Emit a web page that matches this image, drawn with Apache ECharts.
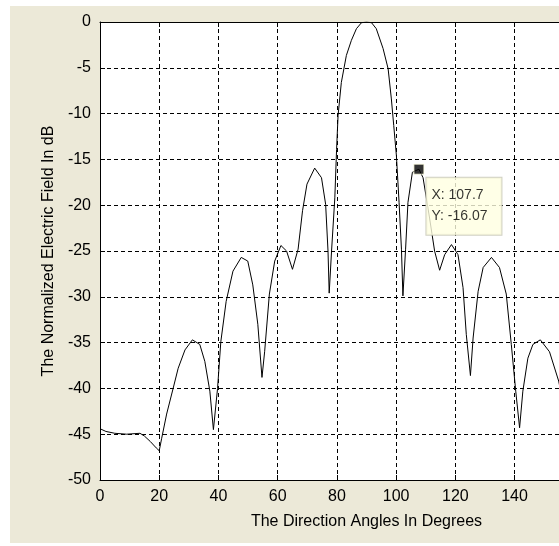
<!DOCTYPE html>
<html>
<head>
<meta charset="utf-8">
<script src="https://cdn.jsdelivr.net/npm/echarts@6/dist/echarts.min.js"></script>
<style>
html,body{margin:0;padding:0;background:#fff;overflow:hidden;}
#main{width:634px;height:546px;}
</style>
</head>
<body>
<div id="main"></div>
<script>
// 方向角(度)
var angles = [0,2,5,9,13.5,15,17,19,20,20.8,22.5,24.7,26.4,28.7,31.2,33.7,35.4,37.1,38.3,39.7,
	40.8,42.6,44.9,47.7,49.9,51.6,53.3,54.7,55.6,57.2,59,61.1,63,65,66.9,68.4,69.9,72.5,74.8,76.2,
	77,77.4,78.2,79.3,79.9,80.4,81.5,83.2,84.9,86.6,88.3,90,91.7,93.3,95.6,97.3,98.4,99.2,100.1,101,
	101.8,102.3,102.8,103.2,104,105.5,107.7,109.1,111.3,113,114.7,116.4,118.7,120.9,122.6,123.7,125.1,126,127.7,129.4,
	132.2,134.9,137.2,138.9,140.4,141.7,142.8,144.5,146.2,148.7,151.8,154.9,157,159,160,161,163,165,166.5,171,
	175,178,180];
// 归一化电场 dB
var fieldDb = [-44.4,-44.7,-44.9,-45,-44.9,-45.2,-45.8,-46.5,-46.8,-45.5,-42.8,-40,-37.8,-35.8,-34.7,-35.2,-37.05,-40.3,-44.5,-40,
	-34.9,-30.5,-27.2,-25.7,-26.1,-28.7,-33,-38.8,-36,-29.7,-26.1,-24.4,-25,-27,-24.8,-20.6,-17.7,-15.95,-17,-19.9,
	-25,-29.6,-25,-19.2,-13.9,-10.2,-6.6,-3.65,-2,-0.73,-0.08,0,-0.08,-0.73,-2.9,-5.1,-8.4,-11.3,-14.6,-19.7,
	-24.8,-29.9,-29.9,-24.8,-19.7,-16.4,-16.07,-17,-21.4,-25,-27.1,-25.4,-24.3,-25.4,-29,-34.1,-38.6,-34.5,-29.4,-26.8,
	-25.7,-26.8,-29.7,-35.2,-40.3,-44.3,-40.3,-36.7,-35.2,-34.7,-36,-39.2,-42.5,-45.5,-46.8,-46.5,-45.8,-45.2,-44.9,-45,
	-44.9,-44.7,-44.4];
// 数据提示点
var cursorPoint = [107.7, -16.07];

var lineData = [];
for (var i = 0; i < angles.length; i++) {
	lineData.push([angles[i], fieldDb[i]]);
}

var font = '"Liberation Sans", Arial, sans-serif';
// 画布比窗口宽，右侧超出部分被裁掉（与原图一致）
var myChart = echarts.init(document.getElementById('main'));
myChart.setOption({
	animation: false,
	backgroundColor: '#fff',
	graphic: [{
		type: 'rect',
		z: -10,
		shape: {x: 10, y: 6, width: 630, height: 537},
		style: {fill: '#ece9d8'}
	}],
	grid: {
		left: 100, top: 22, width: 533, height: 458,
		outerBoundsMode: 'none',
		show: true, backgroundColor: '#fff', borderWidth: 0
	},
	xAxis: [{
		type: 'value', min: 0, max: 180, interval: 20,
		name: 'The Direction Angles In Degrees',
		nameLocation: 'middle', nameGap: 34,
		nameTextStyle: {color: '#000', fontSize: 16, fontFamily: font},
		axisLine: {show: true, onZero: false, lineStyle: {color: '#000', width: 1}},
		axisTick: {show: true, inside: true, length: 5, lineStyle: {color: '#000'}},
		axisLabel: {color: '#000', fontSize: 16, fontFamily: font, margin: 9},
		splitLine: {show: true, lineStyle: {color: '#000', type: [4, 3], width: 1}}
	}, {
		type: 'value', min: 0, max: 180, interval: 20, position: 'top',
		axisLine: {show: true, lineStyle: {color: '#000', width: 1}},
		axisTick: {show: true, inside: true, length: 5, lineStyle: {color: '#000'}},
		axisLabel: {show: false},
		splitLine: {show: false}
	}],
	yAxis: {
		type: 'value', min: -50, max: 0, interval: 5,
		name: 'The Normalized Electric Field In dB',
		nameLocation: 'middle', nameGap: 33,
		nameTextStyle: {color: '#000', fontSize: 16, fontFamily: font},
		axisLine: {show: true, onZero: false, lineStyle: {color: '#000', width: 1}},
		axisTick: {show: true, inside: true, length: 5, lineStyle: {color: '#000'}},
		axisLabel: {color: '#000', fontSize: 16, fontFamily: font, margin: 9},
		splitLine: {show: true, lineStyle: {color: '#000', type: [4, 3], width: 1}}
	},
	series: [{
		type: 'line',
		data: lineData,
		showSymbol: false,
		symbol: 'none',
		lineStyle: {color: '#000', width: 1},
		z: 3
	}, {
		type: 'scatter',
		data: [cursorPoint],
		symbol: 'rect',
		symbolSize: 10,
		itemStyle: {color: '#000', borderColor: '#ffffe1', borderWidth: 1},
		z: 5,
		label: {
			show: true,
			position: [13, 14],
			align: 'left',
			verticalAlign: 'top',
			formatter: function (p) {
				return 'X: ' + p.value[0] + '\nY: ' + p.value[1];
			},
			color: '#000',
			fontSize: 14,
			fontFamily: font,
			lineHeight: 21,
			backgroundColor: '#ffffe1',
			borderColor: '#c4c4b4',
			borderWidth: 1,
			padding: [7, 14, 8, 5]
		}
	}]
});
</script>
</body>
</html>
